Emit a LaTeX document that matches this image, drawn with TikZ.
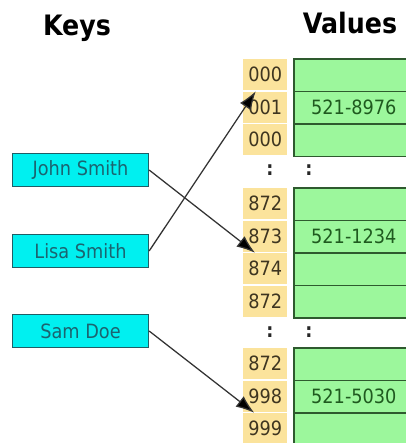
\documentclass[tikz,border=0pt]{standalone}
\usepackage{fontspec}
\setmainfont{DejaVu Sans}[FakeStretch=0.9]
\usetikzlibrary{arrows.meta}

\definecolor{keyfill}{HTML}{00F0F0}
\definecolor{keyline}{HTML}{1F5E66}
\definecolor{keytext}{HTML}{1B6470}
\definecolor{idxfill}{HTML}{FBE39C}
\definecolor{idxtext}{HTML}{3E3520}
\definecolor{valfill}{HTML}{9CF79C}
\definecolor{valline}{HTML}{2E5A2E}
\definecolor{valtext}{HTML}{1F5A1F}

\tikzset{
  heading/.style={font=\bfseries\fontsize{20}{24}\selectfont,anchor=base},
  keybox/.style={draw=keyline,fill=keyfill,line width=0.9pt,text=keytext,
    minimum width=3.4cm,minimum height=0.82cm,inner sep=0pt,
    font=\fontsize{14}{16}\selectfont},
  idxbox/.style={fill=idxfill,text=idxtext,minimum width=1.1cm,
    minimum height=0.775cm,inner sep=0pt,anchor=north west,
    font=\fontsize{14}{16}\selectfont},
  valbox/.style={draw=valline,fill=valfill,line width=1.2pt,text=valtext,
    minimum width=3cm,minimum height=0.8125cm,inner sep=0pt,anchor=north west,
    font=\fontsize{14}{16}\selectfont},
  gapdots/.style={text=black!85,font=\bfseries\fontsize{14}{16}\selectfont},
  hashline/.style={draw=black!80,line width=0.9pt,
    -{Latex[length=4.6mm,width=3.3mm,fill=black]}}
}

\begin{document}
\begin{tikzpicture}[x=0.025cm,y=-0.025cm]
\useasboundingbox (0,0) rectangle (406,443);
\clip (0,0) rectangle (406,443);
\node[heading] (keyhead) at (77,35) {Keys};
\node[heading] (valhead) at (350,33) {Values};
% buckets: index tile and value cell per row
\foreach \n/\ty/\v [count=\k] in {000/58/,001/90.5/521-8976,000/123/,
    872/187/,873/219.5/521-1234,874/252/,872/284.5/,
    872/347/,998/379.5/521-5030,999/412/}{
  \node[valbox] (val\k) at (293,\ty) {\v};
  \node[idxbox] (row\k) at (243,\ty+.75) {\n};
}
\foreach \c [count=\j] in {170,332}{
  \node[gapdots] (gapidx\j) at (270,\c) {:};
  \node[gapdots] (gapval\j) at (309,\c) {:};
}
% keys
\node[keybox] (john) at (80.5,170) {John Smith};
\node[keybox] (lisa) at (80.5,251) {Lisa Smith};
\node[keybox] (sam) at (80.5,331) {Sam Doe};
\draw[hashline] (john.east) -- ([xshift=3mm]row6.north west);
\draw[hashline] (lisa.east) -- ([xshift=3.2mm]row2.north west);
\draw[hashline] (sam.east) -- ([xshift=2.8mm]row10.north west);
\end{tikzpicture}
\end{document}
